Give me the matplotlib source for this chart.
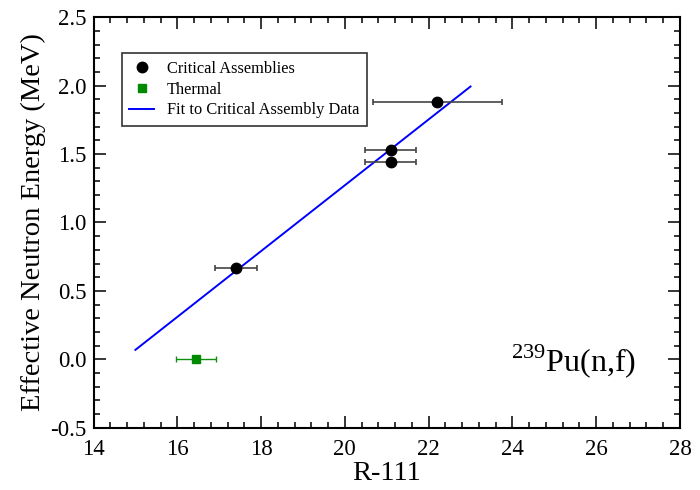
import numpy as np
import matplotlib
matplotlib.use("Agg")
import matplotlib.pyplot as plt
from matplotlib.ticker import MultipleLocator
from matplotlib.lines import Line2D

plt.rcParams['font.family'] = ['Liberation Serif', 'DejaVu Serif']
plt.rcParams['mathtext.fontset'] = 'custom'
plt.rcParams['mathtext.rm'] = 'Liberation Serif'

# critical assembly measurements (R-111 index vs. effective energy)
crit_r = [17.40, 21.10, 21.10, 22.20]
crit_e = [0.67, 1.53, 1.44, 1.88]
crit_rerr = [0.50, 0.61, 0.61, 1.54]

# thermal point
therm_r = [16.45]
therm_e = [0.0]
therm_rerr = [0.485]

fit_range = [15.0, 23.0]

green = '#008a00'

fig = plt.figure(figsize=(7, 4.9), dpi=100)
ax = fig.add_axes([0.1336, 0.127, 0.8378, 0.838])

# linear fit to the critical assembly points
slope, icpt = np.polyfit(crit_r, crit_e, 1)
xf = np.array(fit_range)
ax.plot(xf, icpt + slope * xf, color='blue', lw=1.4, zorder=2)

ax.errorbar(crit_r, crit_e, xerr=crit_rerr, fmt='o', color='black',
            ms=7.5, ecolor='#444444', elinewidth=1.2, capsize=2.2,
            capthick=1.2, zorder=3)
ax.errorbar(therm_r, therm_e, xerr=therm_rerr, fmt='s', color=green,
            ms=6, ecolor='#109010', elinewidth=1.0, capsize=2.2,
            capthick=1.0, zorder=3)

ax.set_xlim(14, 28)
ax.set_ylim(-0.5, 2.5)
ax.xaxis.set_major_locator(MultipleLocator(2))
ax.xaxis.set_minor_locator(MultipleLocator(0.4))
ax.yaxis.set_major_locator(MultipleLocator(0.5))
ax.yaxis.set_minor_locator(MultipleLocator(0.1))
ax.yaxis.set_major_formatter(plt.FuncFormatter(lambda v, p: f'{v:.1f}'))

ax.tick_params(which='both', direction='in', top=True, right=True,
               labelsize=16.5, width=1.1)
ax.tick_params(axis='x', pad=8)
ax.tick_params(axis='y', pad=5)
ax.tick_params(which='major', length=8.5)
ax.tick_params(which='minor', length=4.3)
for sp in ax.spines.values():
    sp.set_linewidth(1.5)

ax.set_xlabel('R-111', fontsize=20.5, labelpad=1)
ax.set_ylabel('Effective Neutron Energy (MeV)', fontsize=20.5, labelpad=3)

ax.text(0.925, 0.137, r'$^{239}$Pu(n,f)', transform=ax.transAxes,
        ha='right', va='baseline', fontsize=23)

handles = [
    Line2D([], [], ls='none', marker='o', color='black', ms=7.5),
    Line2D([], [], ls='none', marker='s', color=green, ms=6),
    Line2D([], [], color='blue', lw=1.4),
]
labels = ['Critical Assemblies', 'Thermal', 'Fit to Critical Assembly Data']
leg = ax.legend(handles, labels, loc='upper left',
                bbox_to_anchor=(0.0486, 0.912), borderaxespad=0,
                fontsize=11.8, frameon=True, fancybox=False,
                edgecolor='black', handlelength=1.5, handletextpad=0.8,
                labelspacing=0.3, borderpad=0.45)
leg.get_frame().set_linewidth(1.2)

fig.savefig('out.png', dpi=100)
